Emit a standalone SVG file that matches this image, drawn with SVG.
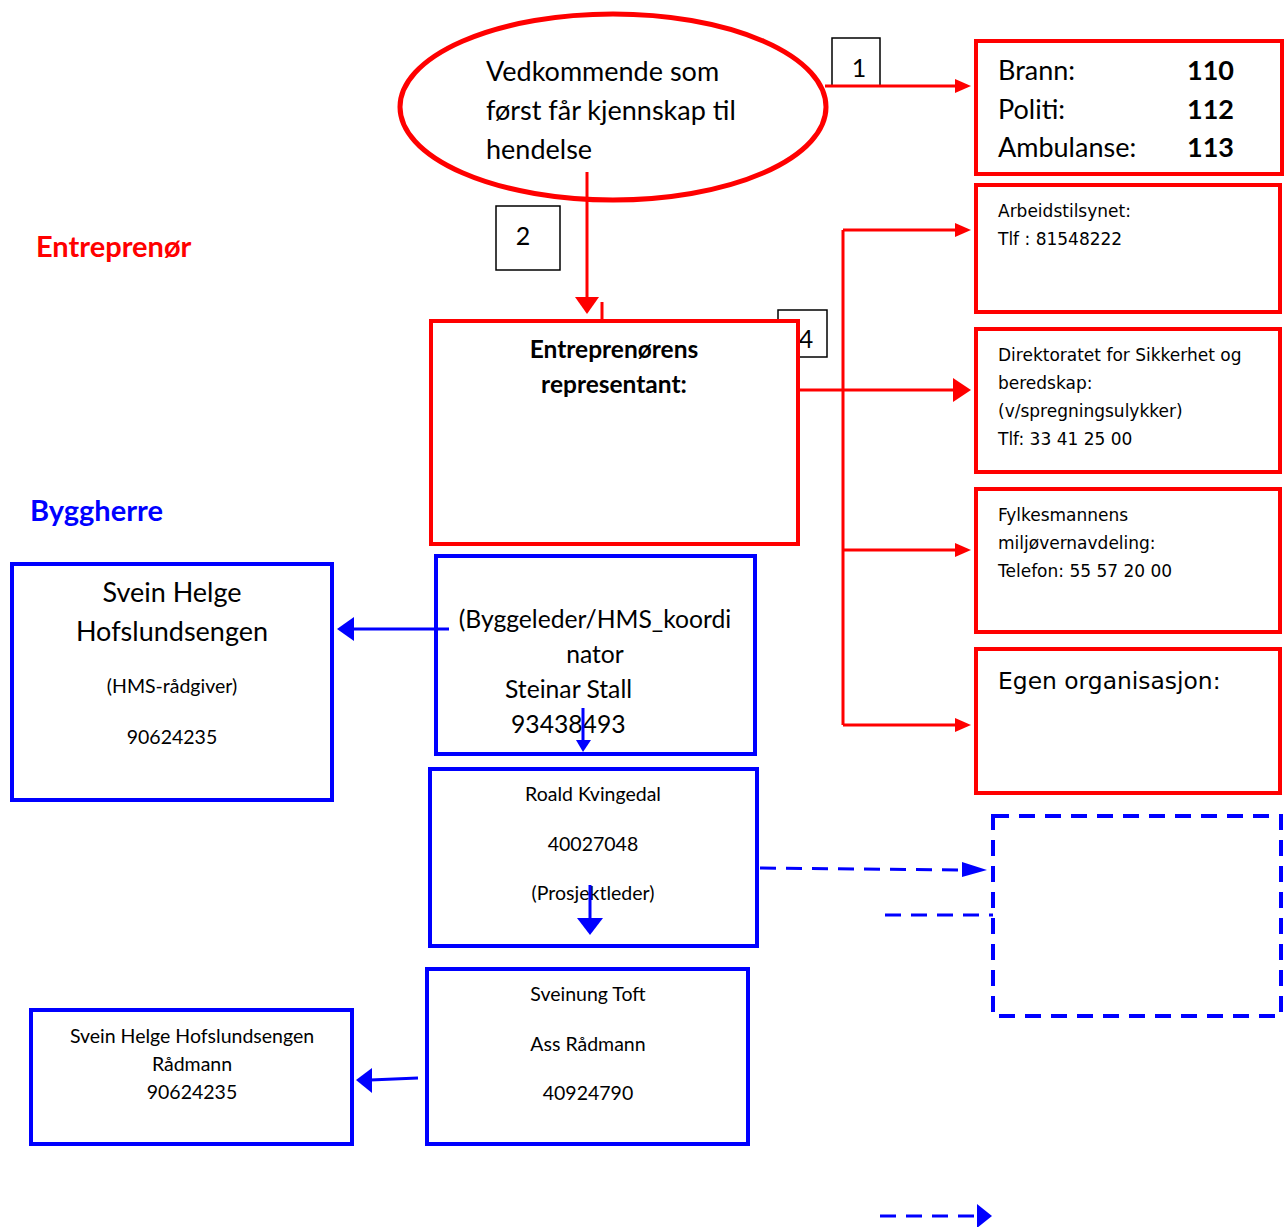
<svg xmlns="http://www.w3.org/2000/svg" width="1285" height="1227" viewBox="0 0 1285 1227">
<style>
.redw{fill:#fff;stroke:#ff0000;stroke-width:4}
.blue{fill:#fff;stroke:#0000ff;stroke-width:4}
.blk{fill:#fff;stroke:#000;stroke-width:1.5}
.rl{fill:none;stroke:#ff0000;stroke-width:3}
.bl{fill:none;stroke:#0000ff;stroke-width:3}
.bd{fill:none;stroke:#0000ff;stroke-width:4;stroke-dasharray:16 10}
.t{font-family:Lato,"Open Sans",sans-serif;fill:#000}
.v{font-family:"DejaVu Sans",Verdana,sans-serif;fill:#000}
.c{text-anchor:middle}
.b{font-weight:bold}
</style>
<text class="t b" x="36" y="257" font-size="29" style="fill:#ff0000">Entreprenør</text>
<text class="t b" x="30" y="521" font-size="29" style="fill:#0000ff">Byggherre</text>

<g id="box1"><rect class="blk" x="832" y="38" width="48" height="48"/><text class="t" x="859" y="77" font-size="25" text-anchor="middle">1</text></g>
<g id="box2"><rect class="blk" x="496" y="206" width="64" height="64"/><text class="t" x="523" y="245" font-size="25" text-anchor="middle">2</text></g>
<g id="box4"><rect class="blk" x="778" y="310" width="49" height="47"/><text class="t" x="806" y="348" font-size="25" text-anchor="middle">4</text></g>

<g id="connectors">
<path class="rl" d="M825,86H962"/><path d="M955,79L971,86L955,93z" fill="#ff0000"/>
<path class="rl" d="M587,172V300"/><path d="M575,297L599,297L587,314z" fill="#ff0000"/>
<path class="rl" d="M602,302V322"/>
<path class="rl" d="M798,390H955"/><path d="M953,378L971,390L953,402z" fill="#ff0000"/>
<path class="rl" d="M843,230V725"/>
<path class="rl" d="M843,230H958"/><path d="M955,223L971,230L955,237z" fill="#ff0000"/>
<path class="rl" d="M843,550H958"/><path d="M955,543L971,550L955,557z" fill="#ff0000"/>
<path class="rl" d="M843,725H958"/><path d="M955,718L971,725L955,732z" fill="#ff0000"/>
<path class="bl" d="M449,629H350"/><path d="M354,617L337,629L354,641z" fill="#0000ff"/>
<path class="bd" style="stroke-width:3" d="M760,868L965,870"/><path d="M962,862L987,870L962,877z" fill="#0000ff"/>
<path class="bd" style="stroke-width:3" d="M885,915H993"/>
<path class="bl" d="M418,1078L370,1080"/><path d="M372,1068L356,1080L372,1093z" fill="#0000ff"/>
<path class="bd" style="stroke-width:3" d="M880,1216H978"/><path d="M977,1204L992,1216L977,1228z" fill="#0000ff"/>
</g>

<g id="ellipse">
<ellipse cx="613" cy="107" rx="213" ry="93" fill="none" stroke="#ff0000" stroke-width="5"/>
<text class="t" x="486" y="81" font-size="27">Vedkommende som</text>
<text class="t" x="486" y="120" font-size="27">først får kjennskap til</text>
<text class="t" x="486" y="159" font-size="27">hendelse</text>
</g>

<g id="entrep">
<rect class="redw" x="431" y="321" width="367" height="223"/>
<text class="t b c" x="614" y="358" font-size="24.5">Entreprenørens</text>
<text class="t b c" x="614" y="393" font-size="24.5">representant:</text>
</g>

<g id="emergency">
<rect class="redw" x="976" y="41" width="306" height="133"/>
<text class="t" x="998" y="80" font-size="27">Brann:</text><text class="t b" x="1187" y="80" font-size="27">110</text>
<text class="t" x="998" y="119" font-size="27">Politi:</text><text class="t b" x="1187" y="119" font-size="27">112</text>
<text class="t" x="998" y="157" font-size="27">Ambulanse:</text><text class="t b" x="1187" y="157" font-size="27">113</text>
</g>
<g id="arbeid">
<rect class="redw" x="976" y="185" width="304" height="127"/>
<text class="v" x="998" y="217" font-size="17">Arbeidstilsynet:</text>
<text class="v" x="998" y="245" font-size="17">Tlf : 81548222</text>
</g>
<g id="dsb">
<rect class="redw" x="976" y="329" width="304" height="143"/>
<text class="v" x="998" y="361" font-size="17">Direktoratet for Sikkerhet og</text>
<text class="v" x="998" y="389" font-size="17">beredskap:</text>
<text class="v" x="998" y="417" font-size="17">(v/spregningsulykker)</text>
<text class="v" x="998" y="445" font-size="17">Tlf: 33 41 25 00</text>
</g>
<g id="fylke">
<rect class="redw" x="976" y="489" width="304" height="143"/>
<text class="v" x="998" y="521" font-size="17">Fylkesmannens</text>
<text class="v" x="998" y="549" font-size="17">miljøvernavdeling:</text>
<text class="v" x="998" y="577" font-size="17">Telefon: 55 57 20 00</text>
</g>
<g id="egen">
<rect class="redw" x="976" y="649" width="304" height="144"/>
<text class="v" x="998" y="689" font-size="23.4">Egen organisasjon:</text>
</g>

<g id="byggeleder">
<rect class="blue" x="436" y="556" width="319" height="198" style="fill:none"/>
<text class="t c" x="595" y="628" font-size="24.7">(Byggeleder/HMS_koordi</text>
<text class="t c" x="595" y="663" font-size="24.7">nator</text>
<text class="t" x="505" y="698" font-size="24.7">Steinar Stall</text>
<text class="t" x="511" y="733" font-size="24.7">93438493</text>
</g>
<g id="svein1">
<rect class="blue" x="12" y="564" width="320" height="236"/>
<text class="t c" x="172" y="602" font-size="27">Svein Helge</text>
<text class="t c" x="172" y="641" font-size="27">Hofslundsengen</text>
<text class="t c" x="172" y="693" font-size="19.5">(HMS-rådgiver)</text>
<text class="t c" x="172" y="744" font-size="19.5">90624235</text>
</g>
<g id="roald">
<rect class="blue" x="430" y="769" width="327" height="177" style="fill:none"/>
<text class="t c" x="593" y="801" font-size="19.5">Roald Kvingedal</text>
<text class="t c" x="593" y="851" font-size="19.5">40027048</text>
<text class="t c" x="593" y="900" font-size="19.5">(Prosjektleder)</text>
</g>
<g id="dashedbox">
<rect class="bd" x="993" y="816" width="288" height="200"/>
</g>
<g id="sveinung">
<rect class="blue" x="427" y="969" width="321" height="175"/>
<text class="t c" x="588" y="1001" font-size="19.5">Sveinung Toft</text>
<text class="t c" x="588" y="1051" font-size="19.5">Ass Rådmann</text>
<text class="t c" x="588" y="1100" font-size="19.5">40924790</text>
</g>
<g id="svein2">
<rect class="blue" x="31" y="1010" width="321" height="134"/>
<text class="t c" x="192" y="1043" font-size="19.5">Svein Helge Hofslundsengen</text>
<text class="t c" x="192" y="1071" font-size="19.5">Rådmann</text>
<text class="t c" x="192" y="1099" font-size="19.5">90624235</text>
</g>
<g id="innerarrows">
<path class="bl" d="M583,708V742"/><path d="M576,740L591,740L583,752z" fill="#0000ff"/>
<path class="bl" d="M590,885V920"/><path d="M577,918L603,918L590,935z" fill="#0000ff"/>
</g>
</svg>
